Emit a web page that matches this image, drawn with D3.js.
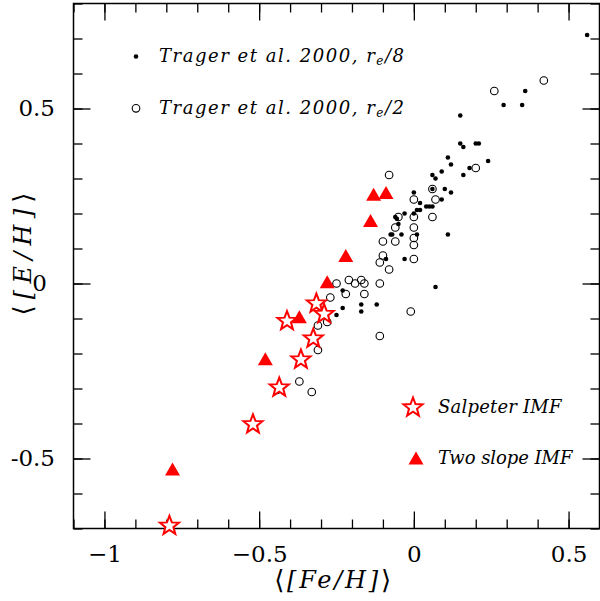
<!DOCTYPE html>
<html>
<head>
<meta charset="utf-8">
<script src="https://cdn.jsdelivr.net/npm/d3@7"></script>
<style>
  html, body { margin: 0; padding: 0; background: #fff; }
  svg { display: block; }
  .tick text { font-family: "DejaVu Serif", serif; font-size: 23px; fill: #000; }
  .lab { font-family: "DejaVu Serif", serif; font-style: italic; fill: #000; }
  .ang { font-family: "DejaVu Sans", sans-serif; font-style: normal; font-weight: normal; }
</style>
</head>
<body>
<script>
// Trager et al. 2000, r_e/8 apertures (filled dots)
const re8Fe = [0.56, 0.36, 0.29, 0.35, 0.15, 0.15, 0.16, 0.20, 0.21, 0.11, 0.12, 0.09, 0.06, 0.07,
               0.16, 0.18, 0.24, 0.06, 0.10, 0.12, 0.00, 0.09, 0.02, 0.01, 0.02, 0.04, 0.05, 0.06,
               -0.03, 0.00, -0.06, -0.055, -0.05, -0.075, -0.07, -0.04, 0.01, 0.11, -0.09, -0.03,
               -0.23, -0.23, -0.17, -0.12, -0.17, -0.25, 0.07, -0.44];
const re8E  = [0.71, 0.55, 0.51, 0.51, 0.48, 0.40, 0.39, 0.40, 0.40, 0.36, 0.34, 0.32, 0.31, 0.30,
               0.31, 0.33, 0.35, 0.27, 0.27, 0.26, 0.26, 0.24, 0.23, 0.21, 0.21, 0.22, 0.22, 0.22,
               0.20, 0.20, 0.19, 0.185, 0.17, 0.14, 0.14, 0.14, 0.14, 0.14, 0.07, 0.07,
               -0.02, -0.07, -0.06, -0.06, -0.08, -0.09, -0.01, -0.31];

// Trager et al. 2000, r_e/2 apertures (open circles)
const re2Fe = [0.42, 0.26, 0.20, -0.08, 0.06, 0.00, 0.07, 0.06, -0.05, 0.00, -0.06, 0.00, 0.00,
               -0.10, -0.06, 0.00, -0.10, -0.11, 0.00, -0.08, -0.25, -0.21, -0.19, -0.17, -0.16,
               -0.11, -0.22, -0.16, -0.27, -0.31, -0.28, -0.11, -0.31, -0.37, -0.33, -0.01];
const re2E  = [0.58, 0.55, 0.33, 0.31, 0.27, 0.24, 0.24, 0.19, 0.19, 0.19, 0.16, 0.16, 0.13,
               0.12, 0.12, 0.11, 0.08, 0.06, 0.07, 0.04, 0.00, 0.01, 0.00, 0.01, 0.00,
               0.00, -0.03, -0.03, -0.04, -0.12, -0.11, -0.15, -0.19, -0.28, -0.31, -0.08];

// Models with a Salpeter IMF (open stars)
const salpFe = [-0.79, -0.52, -0.435, -0.365, -0.325, -0.41, -0.315, -0.29];
const salpE  = [-0.69, -0.40, -0.295, -0.215, -0.155, -0.105, -0.055, -0.085];

// Models with a two-slope IMF (filled triangles)
const twoFe = [-0.78, -0.48, -0.37, -0.28, -0.22, -0.14, -0.13, -0.09];
const twoE  = [-0.53, -0.215, -0.095, 0.005, 0.08, 0.18, 0.255, 0.26];

// Axis ticks
const xMajor = [-1, -0.5, 0, 0.5];
const yMajor = [-0.5, 0, 0.5];
const xMinor = d3.range(-11, 7).map(d => d / 10);
const yMinor = d3.range(-7, 9).map(d => d / 10);

const W = 600, H = 601;
const RED = "#ff0000";

const svg = d3.select("body").append("svg").attr("width", W).attr("height", H);

const x = d3.scaleLinear().domain([-1.1, 0.6]).range([73.5, 599.5]);
const y = d3.scaleLinear().domain([-0.7, 0.8]).range([528.5, 3.5]);

const [x0, x1] = x.range();
const [y0, y1] = y.range();

const fmtX = d => d === 0 ? "0" : (d < 0 ? "\u2212" + Math.abs(d) : String(d));
const fmtY = d => d === 0 ? "0" : String(d);

function styleAxis(g) {
  g.select(".domain").remove();
  g.selectAll(".tick line").attr("stroke", "#000").attr("stroke-width", 1.3);
}

// minor ticks on all four sides
svg.append("g").attr("transform", `translate(0,${y0})`)
  .call(d3.axisBottom(x).tickValues(xMinor).tickSize(-9).tickFormat("")).call(styleAxis);
svg.append("g").attr("transform", `translate(0,${y1})`)
  .call(d3.axisTop(x).tickValues(xMinor).tickSize(-9).tickFormat("")).call(styleAxis);
svg.append("g").attr("transform", `translate(${x0},0)`)
  .call(d3.axisLeft(y).tickValues(yMinor).tickSize(-9).tickFormat("")).call(styleAxis);
svg.append("g").attr("transform", `translate(${x1},0)`)
  .call(d3.axisRight(y).tickValues(yMinor).tickSize(-9).tickFormat("")).call(styleAxis);

// major ticks with labels on bottom and left
svg.append("g").attr("transform", `translate(0,${y0})`)
  .call(d3.axisBottom(x).tickValues(xMajor).tickSize(-17).tickPadding(17).tickFormat(fmtX))
  .call(styleAxis);
svg.append("g").attr("transform", `translate(0,${y1})`)
  .call(d3.axisTop(x).tickValues(xMajor).tickSize(-17).tickFormat("")).call(styleAxis);
const yAx = svg.append("g").attr("transform", `translate(${x0},0)`)
  .call(d3.axisLeft(y).tickValues(yMajor).tickSize(-17).tickPadding(18.5).tickFormat(fmtY))
  .call(styleAxis);
yAx.selectAll(".tick text").filter(d => d === 0).attr("dx", -8);
svg.append("g").attr("transform", `translate(${x1},0)`)
  .call(d3.axisRight(y).tickValues(yMajor).tickSize(-17).tickFormat("")).call(styleAxis);

// frame
svg.append("rect")
  .attr("x", x0).attr("y", y1).attr("width", x1 - x0).attr("height", y0 - y1)
  .attr("fill", "none").attr("stroke", "#000").attr("stroke-width", 1.5);

// spread a label's glyphs so it spans a given width
function fitWidth(t, target) {
  const n = t.text().length;
  const w = t.node().getBBox().width;
  if (n > 1) t.attr("letter-spacing", (target - w) / (n - 1));
}

// axis title: tall angle brackets around an italic quantity
function angleTitle(t, inner) {
  t.append("tspan").attr("class", "ang").attr("font-size", 26).attr("dy", 1).text("\u27E8");
  t.append("tspan").attr("dy", -1).text(inner);
  t.append("tspan").attr("class", "ang").attr("font-size", 26).attr("dy", 1).text("\u27E9");
  return t;
}

const xt = angleTitle(svg.append("text").attr("class", "lab")
  .attr("font-size", 24).attr("text-anchor", "middle")
  .attr("x", 334).attr("y", 588), "[Fe/H]");
const yt = angleTitle(svg.append("text").attr("class", "lab")
  .attr("font-size", 24).attr("text-anchor", "middle")
  .attr("transform", "translate(31,251) rotate(-90)"), "[E/H]");

// data points
const re2 = re2Fe.map((v, i) => [v, re2E[i]]);
const re8 = re8Fe.map((v, i) => [v, re8E[i]]);
const salp = salpFe.map((v, i) => [v, salpE[i]]);
const two = twoFe.map((v, i) => [v, twoE[i]]);

svg.append("g").selectAll("circle").data(re2).join("circle")
  .attr("cx", d => x(d[0])).attr("cy", d => y(d[1])).attr("r", 3.8)
  .attr("fill", "none").attr("stroke", "#000").attr("stroke-width", 1.1);

svg.append("g").selectAll("circle").data(re8).join("circle")
  .attr("cx", d => x(d[0])).attr("cy", d => y(d[1])).attr("r", 2.3)
  .attr("fill", "#000");

function starPath(R, r) {
  const pts = [];
  for (let k = 0; k < 10; k++) {
    const a = -Math.PI / 2 + k * Math.PI / 5;
    const rr = k % 2 === 0 ? R : r;
    pts.push([rr * Math.cos(a), rr * Math.sin(a)]);
  }
  return "M" + pts.map(p => p.join(",")).join("L") + "Z";
}
function triPath(w) {
  const h = w * Math.sqrt(3) / 2;
  return `M0,${-h / 2}L${w / 2},${h / 2}L${-w / 2},${h / 2}Z`;
}

const STAR = starPath(10, 4.2);
const TRI = triPath(15);

svg.append("g").selectAll("path").data(salp).join("path")
  .attr("d", STAR).attr("transform", d => `translate(${x(d[0])},${y(d[1]) + 0.8})`)
  .attr("fill", "#fff").attr("stroke", RED).attr("stroke-width", 2);

svg.append("g").selectAll("path").data(two).join("path")
  .attr("d", TRI).attr("transform", d => `translate(${x(d[0])},${y(d[1])})`)
  .attr("fill", RED);

// legend
const leg = svg.append("g");
leg.append("circle").attr("cx", 136).attr("cy", 56.5).attr("r", 2.3).attr("fill", "#000");
leg.append("circle").attr("cx", 136).attr("cy", 108.3).attr("r", 3.8)
  .attr("fill", "none").attr("stroke", "#000").attr("stroke-width", 1.1);
leg.append("path").attr("d", STAR).attr("transform", "translate(413,407.5)")
  .attr("fill", "#fff").attr("stroke", RED).attr("stroke-width", 2);
leg.append("path").attr("d", TRI).attr("transform", "translate(416,458)").attr("fill", RED);

function tragerLabel(yy, ap) {
  const t = leg.append("text").attr("class", "lab").attr("font-size", 18)
    .attr("x", 159).attr("y", yy);
  t.append("tspan").text("Trager et al. 2000, r");
  t.append("tspan").attr("font-size", 12).attr("dy", 3).text("e");
  t.append("tspan").attr("dy", -3).text("/" + ap);
  return t;
}
const t1 = tragerLabel(61.5, "8");
const t2 = tragerLabel(113.5, "2");
const t3 = leg.append("text").attr("class", "lab").attr("font-size", 18)
  .attr("x", 438).attr("y", 413).text("Salpeter IMF");
const t4 = leg.append("text").attr("class", "lab").attr("font-size", 18)
  .attr("x", 438).attr("y", 464).text("Two slope IMF");

fitWidth(t1, 245);
fitWidth(t2, 245);
fitWidth(t3, 125);
fitWidth(t4, 136);
fitWidth(xt, 117);
fitWidth(yt, 123);
</script>
</body>
</html>
